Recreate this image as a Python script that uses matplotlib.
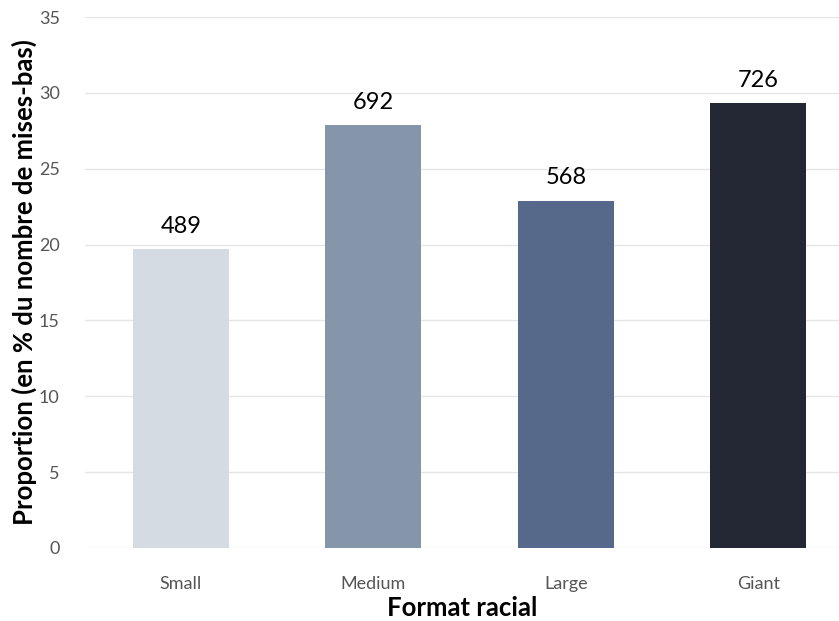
import matplotlib.pyplot as plt
import numpy as np

categories = ['Small', 'Medium', 'Large', 'Giant']
proportions = [19.7, 27.9, 22.9, 29.3]
counts = ['489', '692', '568', '726']
colors = ['#d5dbe3', '#8596ab', '#56698a', '#232834']

plt.rcParams['font.family'] = ['Lato', 'DejaVu Sans']

fig = plt.figure(figsize=(8.39, 6.21), dpi=100)
ax = fig.add_axes([0.101, 0.1176, 0.899, 0.855])

x = np.arange(len(categories))
ax.bar(x, proportions, width=0.5, color=colors, zorder=2)
for xi, p, c in zip(x, proportions, counts):
    ax.text(xi, p + 0.8, c, ha='center', va='bottom', fontsize=17, color='black')

ax.set_xlim(-0.5, 3.42)
ax.set_ylim(0, 35)
ax.set_yticks(np.arange(0, 36, 5))
ax.set_xticks(x)
ax.set_xticklabels(categories)
ax.grid(axis='y', color='#e6e6e6', linewidth=1, zorder=0)
for s in ax.spines.values():
    s.set_visible(False)
ax.tick_params(length=0, labelsize=13, colors='#555555')
ax.tick_params(axis='x', pad=20)
ax.tick_params(axis='y', pad=18)

ax.set_xlabel('Format racial', fontsize=18.5, fontweight='bold', labelpad=3)
ax.set_ylabel('Proportion (en % du nombre de mises-bas)', fontsize=18.5, fontweight='bold', labelpad=1)

fig.savefig('out.png', dpi=100)
